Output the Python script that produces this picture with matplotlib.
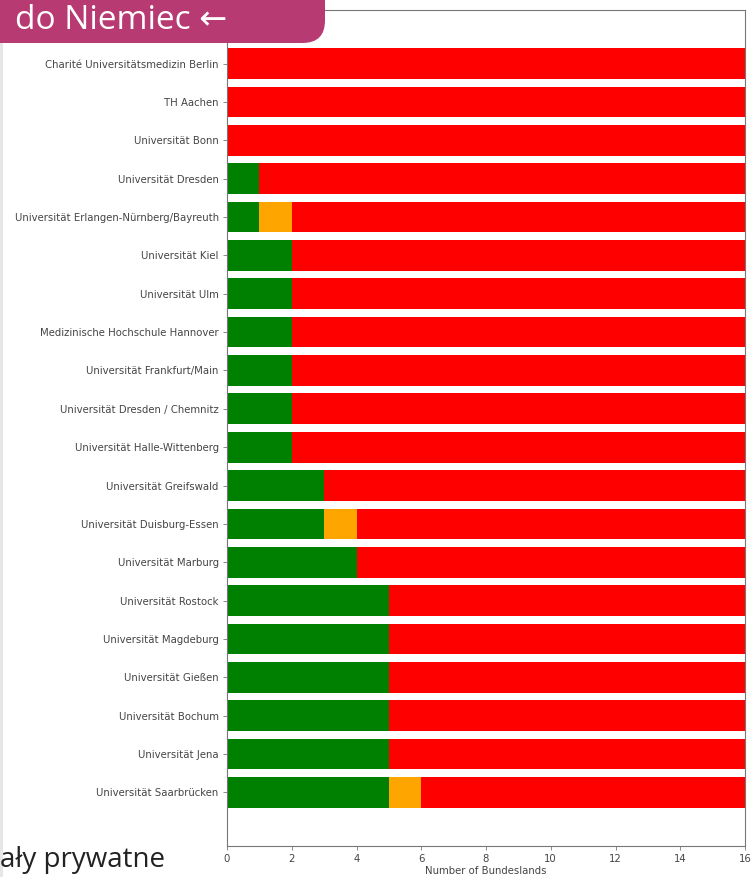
import matplotlib
matplotlib.use("Agg")
import matplotlib.pyplot as plt
from matplotlib.patches import FancyBboxPatch, Rectangle

universities = [
    "Charité Universitätsmedizin Berlin",
    "TH Aachen",
    "Universität Bonn",
    "Universität Dresden",
    "Universität Erlangen-Nürnberg/Bayreuth",
    "Universität Kiel",
    "Universität Ulm",
    "Medizinische Hochschule Hannover",
    "Universität Frankfurt/Main",
    "Universität Dresden / Chemnitz",
    "Universität Halle-Wittenberg",
    "Universität Greifswald",
    "Universität Duisburg-Essen",
    "Universität Marburg",
    "Universität Rostock",
    "Universität Magdeburg",
    "Universität Gießen",
    "Universität Bochum",
    "Universität Jena",
    "Universität Saarbrücken",
]
green_vals = [0, 0, 0, 1, 1, 2, 2, 2, 2, 2, 2, 3, 3, 4, 5, 5, 5, 5, 5, 5]
orange_vals = [0, 0, 0, 0, 1, 0, 0, 0, 0, 0, 0, 0, 1, 0, 0, 0, 0, 0, 0, 1]
total_bundeslands = 16
red_vals = [total_bundeslands - g - o for g, o in zip(green_vals, orange_vals)]
xticks = [0, 2, 4, 6, 8, 10, 12, 14, 16]
xlabel = "Number of Bundeslands"
banner_text = "do Niemiec \u2190"
bottom_text = "ały prywatne"

W, H = 751, 877
fig = plt.figure(figsize=(W / 100, H / 100), dpi=100)
fig.patch.set_facecolor("white")

fs = 7.3
ax = fig.add_axes([227 / W, 1 - 846 / H, (745 - 227) / W, (846 - 10) / H])
y = list(range(len(universities)))
ax.barh(y, green_vals, height=0.8, color="green")
ax.barh(y, orange_vals, left=green_vals, height=0.8, color="orange")
left_red = [g + o for g, o in zip(green_vals, orange_vals)]
ax.barh(y, red_vals, left=left_red, height=0.8, color="red")
ax.set_yticks(y)
ax.set_yticklabels(universities, fontsize=fs, color="#444444")
ax.set_xticks(xticks)
ax.set_xticklabels([str(t) for t in xticks], fontsize=fs, color="#444444")
ax.set_xlim(0, 16)
ax.set_ylim(len(universities) - 1 + 1.4, -1.4)
ax.set_xlabel(xlabel, fontsize=fs, color="#444444", labelpad=1)
for s in ax.spines.values():
    s.set_color("#777777")
    s.set_linewidth(0.8)
ax.tick_params(length=3, width=0.6, pad=3, colors="#777777", labelcolor="#444444")

# left page strip
fig.patches.append(Rectangle((0, 0), 3 / W, 1, transform=fig.transFigure,
                             facecolor="#e6e6e6", edgecolor="none", zorder=5))

# banner
banner = FancyBboxPatch((-40 / W, 1 - 43 / H), 365 / W, 80 / H,
                        boxstyle="round,pad=0,rounding_size=0.03",
                        transform=fig.transFigure, facecolor="#b73a72",
                        edgecolor="none", zorder=10, mutation_aspect=W / H)
fig.patches.append(banner)
fig.text(15 / W, 1 - 29 / H, banner_text, color="white", fontsize=24,
         family=["Open Sans", "DejaVu Sans"], va="baseline", ha="left", zorder=11)

fig.text(0, 1 - 867 / H, bottom_text, color="#222222", fontsize=20,
         family=["Open Sans", "DejaVu Sans"], va="baseline", ha="left", zorder=11)

fig.savefig("out.png", dpi=100)
